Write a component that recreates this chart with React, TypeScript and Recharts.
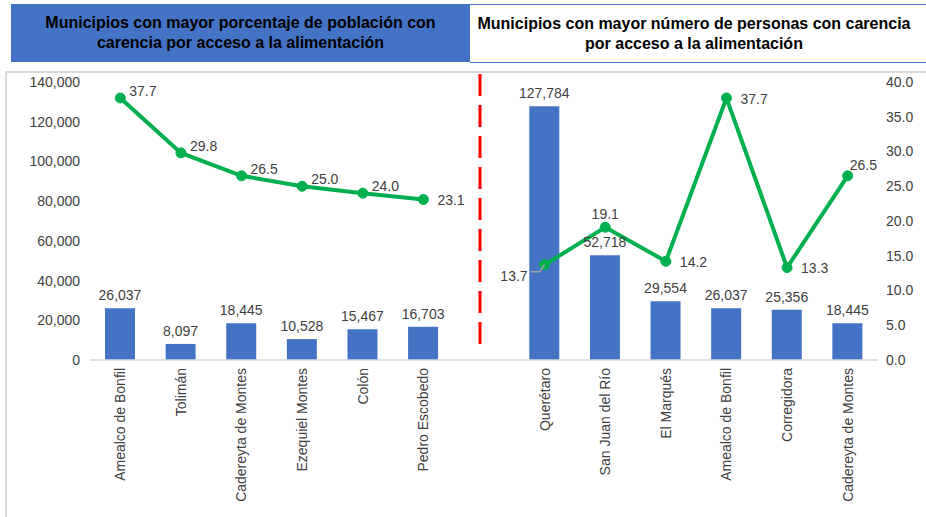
import React from "react";
import {
  ComposedChart,
  Bar,
  Line,
  XAxis,
  YAxis,
  LabelList,
  ReferenceLine,
} from "recharts";

const GAP = "gap";

const leftMunicipios = [
  "Amealco de Bonfil",
  "Tolimán",
  "Cadereyta de Montes",
  "Ezequiel Montes",
  "Colón",
  "Pedro Escobedo",
];
const leftPersonas = [26037, 8097, 18445, 10528, 15467, 16703];
const leftPorcentaje = [37.7, 29.8, 26.5, 25.0, 24.0, 23.1];

const rightMunicipios = [
  "Querétaro",
  "San Juan del Río",
  "El Marqués",
  "Amealco de Bonfil",
  "Corregidora",
  "Cadereyta de Montes",
];
const rightPersonas = [127784, 52718, 29554, 26037, 25356, 18445];
const rightPorcentaje = [13.7, 19.1, 14.2, 37.7, 13.3, 26.5];

const leftTicks = [0, 20000, 40000, 60000, 80000, 100000, 120000, 140000];
const rightTicks = [0, 5, 10, 15, 20, 25, 30, 35, 40];

// where each percentage label sits relative to its point
const leftLabelPlace = ["ne", "ne", "ne", "ne", "ne", "e"];
const rightLabelPlace = ["leader", "n", "e", "e", "e", "nn"];

// names repeat on both sides, so the axis runs on unique ids
const data = [
  ...leftMunicipios.map((name, i) => ({
    id: `L${i}`,
    name,
    personas: leftPersonas[i],
    pctLeft: leftPorcentaje[i],
    pctRight: null,
  })),
  { id: GAP, name: "", personas: null, pctLeft: null, pctRight: null },
  ...rightMunicipios.map((name, i) => ({
    id: `R${i}`,
    name,
    personas: rightPersonas[i],
    pctLeft: null,
    pctRight: rightPorcentaje[i],
  })),
];
const nameById: Record<string, string> = {};
data.forEach((d) => (nameById[d.id] = d.name));

const TEXT = "#404040";
const FONT = "'Liberation Sans', Arial, sans-serif";

const makePctLabel = (places: string[], startIndex: number) => (props: any) => {
  const { x, y, value, index } = props;
  if (value == null || x == null || y == null) return null;
  const place = places[index - startIndex] || "ne";
  const text = Number(value).toFixed(1);
  const common = { fontSize: 14, fill: TEXT, fontFamily: FONT };
  if (place === "e") {
    return (
      <text x={x + 14} y={y + 1} dy="0.35em" textAnchor="start" {...common}>
        {text}
      </text>
    );
  }
  if (place === "n") {
    return (
      <text x={x} y={y - 13} dy="0.35em" textAnchor="middle" {...common}>
        {text}
      </text>
    );
  }
  if (place === "nn") {
    return (
      <text x={x + 2} y={y - 11} dy="0.35em" textAnchor="start" {...common}>
        {text}
      </text>
    );
  }
  if (place === "leader") {
    return (
      <g>
        <polyline
          points={`${x - 14},${y + 7} ${x - 5},${y + 7} ${x},${y}`}
          fill="none"
          stroke="#a6a6a6"
          strokeWidth={1.5}
        />
        <text x={x - 17} y={y + 11} dy="0.35em" textAnchor="end" {...common}>
          {text}
        </text>
      </g>
    );
  }
  return (
    <text x={x + 9} y={y - 7} dy="0.35em" textAnchor="start" {...common}>
      {text}
    </text>
  );
};

const RotatedTick = (props: any) => {
  const { x, y, payload } = props;
  const label = payload ? nameById[payload.value] : "";
  if (!label) return null;
  return (
    <g transform={`translate(${x},${y})`}>
      <text
        x={0}
        y={0}
        dy="0.35em"
        transform="rotate(-90)"
        textAnchor="end"
        fontSize={14}
        fill={TEXT}
        fontFamily={FONT}
      >
        {label}
      </text>
    </g>
  );
};

// dashed divider, nudged up a little like the original sheet
const Divider = (props: any) => {
  const { x1, y1, x2, y2 } = props;
  if (x1 == null) return null;
  return (
    <line
      x1={x1 - 4}
      y1={Math.min(y1, y2) - 8}
      x2={x2 - 4}
      y2={Math.max(y1, y2) - 8}
      stroke="#FF0000"
      strokeWidth={3}
      strokeDasharray="22 9"
    />
  );
};

const headerText: React.CSSProperties = {
  fontFamily: FONT,
  fontWeight: "bold",
  fontSize: 16,
  lineHeight: "20px",
  color: "#000",
  textAlign: "center",
  whiteSpace: "nowrap",
};

export default function App() {
  return (
    <div
      style={{
        position: "absolute",
        left: 0,
        top: 0,
        width: 926,
        height: 517,
        background: "#fff",
        overflow: "hidden",
        fontFamily: FONT,
      }}
    >
      <div
        style={{
          position: "absolute",
          left: 11,
          top: 4,
          width: 459,
          height: 58,
          background: "#4472C4",
          display: "flex",
          alignItems: "center",
          justifyContent: "center",
          ...headerText,
        }}
      >
        <div>
          Municipios con mayor porcentaje de población con
          <br />
          carencia por acceso a la alimentación
        </div>
      </div>
      <div
        style={{
          position: "absolute",
          left: 470,
          top: 4,
          width: 456,
          height: 59,
          boxSizing: "border-box",
          borderTop: "1.5px solid #4472C4",
          borderBottom: "1.5px solid #4472C4",
          display: "flex",
          alignItems: "center",
          justifyContent: "center",
          paddingRight: 8,
          ...headerText,
        }}
      >
        <div>
          Municipios con mayor número de personas con carencia
          <br />
          por acceso a la alimentación
        </div>
      </div>
      <div
        style={{
          position: "absolute",
          left: 5,
          top: 71,
          width: 940,
          height: 470,
          border: "2px solid #d9d9d9",
        }}
      />
      <div style={{ position: "absolute", left: 0, top: 72 }}>
        <ComposedChart
          width={926}
          height={445}
          data={data}
          margin={{ top: 10, right: 0, left: 0, bottom: 0 }}
        >
          <XAxis
            dataKey="id"
            xAxisId="x"
            height={157}
            interval={0}
            tickLine={false}
            axisLine={{ stroke: "#d9d9d9", strokeWidth: 1.5 }}
            tick={<RotatedTick />}
            tickMargin={2}
          />
          <YAxis
            yAxisId="left"
            orientation="left"
            width={90}
            domain={[0, 140000]}
            ticks={leftTicks}
            tickFormatter={(v: number) => v.toLocaleString("en-US")}
            axisLine={false}
            tickLine={false}
            tickMargin={4}
            tick={{ fontSize: 14, fill: TEXT, fontFamily: FONT }}
          />
          <YAxis
            yAxisId="right"
            orientation="right"
            width={48}
            domain={[0, 40]}
            ticks={rightTicks}
            tickFormatter={(v: number) => v.toFixed(1)}
            axisLine={false}
            tickLine={false}
            tick={{ fontSize: 14, fill: TEXT, fontFamily: FONT, textAnchor: "start" }}
          />
          <Bar
            dataKey="personas"
            xAxisId="x"
            yAxisId="left"
            fill="#4472C4"
            barSize={30}
            isAnimationActive={false}
          >
            <LabelList
              dataKey="personas"
              position="top"
              offset={8}
              formatter={(v: any) => (v == null ? "" : Number(v).toLocaleString("en-US"))}
              style={{ fontSize: 14, fill: TEXT, fontFamily: FONT }}
            />
          </Bar>
          <Line
            dataKey="pctLeft"
            xAxisId="x"
            yAxisId="right"
            stroke="#00B050"
            strokeWidth={4}
            dot={{ r: 5, fill: "#00B050", stroke: "#00B050", strokeWidth: 1 }}
            activeDot={false}
            isAnimationActive={false}
          >
            <LabelList dataKey="pctLeft" content={makePctLabel(leftLabelPlace, 0)} />
          </Line>
          <Line
            dataKey="pctRight"
            xAxisId="x"
            yAxisId="right"
            stroke="#00B050"
            strokeWidth={4}
            dot={{ r: 5, fill: "#00B050", stroke: "#00B050", strokeWidth: 1 }}
            activeDot={false}
            isAnimationActive={false}
          >
            <LabelList dataKey="pctRight" content={makePctLabel(rightLabelPlace, 7)} />
          </Line>
          <ReferenceLine
            xAxisId="x"
            yAxisId="left"
            x={GAP}
            stroke="#FF0000"
            strokeWidth={3}
            strokeDasharray="22 9"
            shape={(p: any) => <Divider {...p} />}
          />
        </ComposedChart>
      </div>
    </div>
  );
}
